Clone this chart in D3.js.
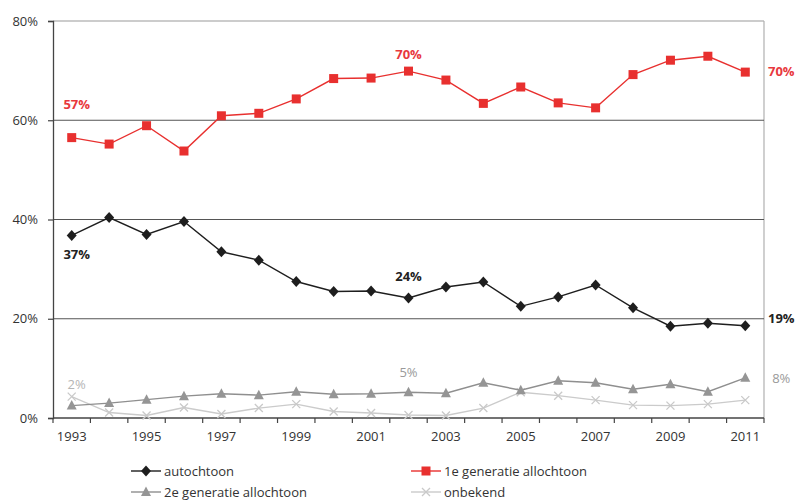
<!DOCTYPE html>
<html>
<head>
<meta charset="utf-8">
<script src="https://cdn.jsdelivr.net/npm/d3@7"></script>
<style>
  body { margin: 0; background: #fff; }
  svg { display: block; font-family: "Open Sans", "DejaVu Sans", sans-serif; }
</style>
</head>
<body>
<svg id="chart" width="796" height="500"></svg>
<script>
// Years on the x axis
const years = [1993,1994,1995,1996,1997,1998,1999,2000,2001,2002,2003,2004,2005,2006,2007,2008,2009,2010,2011];
const yearLabels = [1993,1995,1997,1999,2001,2003,2005,2007,2009,2011];
const yTicks = [0,20,40,60,80];

// Shares per group (%)
const autochtoon = [36.8,40.4,37.0,39.6,33.5,31.8,27.5,25.5,25.6,24.2,26.4,27.4,22.5,24.4,26.8,22.2,18.5,19.1,18.6];
const eersteGen  = [56.5,55.2,58.9,53.8,60.9,61.4,64.3,68.4,68.5,69.9,68.1,63.4,66.7,63.5,62.5,69.2,72.1,72.9,69.7];
const tweedeGen  = [2.5,3.0,3.7,4.4,4.9,4.6,5.3,4.8,4.9,5.2,5.0,7.1,5.6,7.5,7.1,5.8,6.8,5.3,8.1];
const onbekend   = [4.3,1.1,0.5,2.1,0.8,2.0,2.8,1.3,1.0,0.6,0.5,2.0,5.2,4.5,3.6,2.6,2.5,2.8,3.6];

// Value callouts: [series key, year, text]
const callouts = [
  ["eerste", 1993, "57%"], ["eerste", 2002, "70%"], ["eerste", 2011, "70%"],
  ["auto", 1993, "37%"], ["auto", 2002, "24%"], ["auto", 2011, "19%"],
  ["onbekend", 1993, "2%"], ["tweede", 2002, "5%"], ["tweede", 2011, "8%"]
];

const series = [
  { key: "auto", name: "autochtoon", values: autochtoon, color: "#1e1e1e", line: "#1e1e1e", marker: "diamond", width: 1.4 },
  { key: "eerste", name: "1e generatie allochtoon", values: eersteGen, color: "#e8302f", line: "#e8302f", marker: "square", width: 1.4 },
  { key: "tweede", name: "2e generatie allochtoon", values: tweedeGen, color: "#959595", line: "#8f8f8f", marker: "triangle", width: 1.4 },
  { key: "onbekend", name: "onbekend", values: onbekend, color: "#c9c9c9", line: "#cbcbcb", marker: "cross", width: 1.4 }
];

const svg = d3.select("#chart");
const m = { left: 53, right: 764, top: 21, bottom: 418 };

const x = d3.scaleBand().domain(years).range([m.left, m.right]);
const xc = d => x(d) + x.bandwidth() / 2;
const y = d3.scaleLinear().domain([0, 80]).range([m.bottom, m.top]);

// Frame: top and right border in light grey
svg.append("line").attr("x1", m.left).attr("x2", m.right).attr("y1", y(80)).attr("y2", y(80))
  .attr("stroke", "#9a9a9a").attr("stroke-width", 1.2);
svg.append("line").attr("x1", m.right).attr("x2", m.right).attr("y1", y(80)).attr("y2", y(0))
  .attr("stroke", "#b0b0b0").attr("stroke-width", 1.2);

// Gridlines
svg.append("g").selectAll("line").data([20, 40, 60]).join("line")
  .attr("x1", m.left).attr("x2", m.right)
  .attr("y1", d => y(d)).attr("y2", d => y(d))
  .attr("stroke", "#555").attr("stroke-width", 1.2);

// Y axis
const yAxis = svg.append("g").attr("transform", `translate(${m.left},0)`)
  .call(d3.axisLeft(y).tickValues(yTicks).tickFormat(d => d + "%").tickSize(5).tickPadding(10));
yAxis.select(".domain").attr("stroke", "#444").attr("stroke-width", 1.3);
yAxis.selectAll(".tick line").attr("stroke", "#444").attr("stroke-width", 1.2);
yAxis.selectAll("text").attr("font-size", 13).attr("fill", "#333")
  .attr("font-family", "\"Open Sans\", sans-serif");

// X axis: ticks at category boundaries, labels every other year
const bounds = years.map(d => x(d)).concat([m.right]);
const xg = svg.append("g");
xg.append("line").attr("x1", m.left).attr("x2", m.right).attr("y1", y(0)).attr("y2", y(0))
  .attr("stroke", "#444").attr("stroke-width", 1.3);
xg.selectAll("line.tk").data(bounds).join("line").attr("class", "tk")
  .attr("x1", d => d).attr("x2", d => d).attr("y1", y(0)).attr("y2", y(0) + 5)
  .attr("stroke", "#444").attr("stroke-width", 1.2);
xg.selectAll("text").data(yearLabels).join("text")
  .attr("x", d => xc(d)).attr("y", y(0) + 23)
  .attr("text-anchor", "middle").attr("font-size", 13).attr("fill", "#333")
  .text(d => d);

// Marker shapes
function drawMarker(g, type, color, cx, cy) {
  if (type === "diamond") {
    g.append("path").attr("d", `M${cx},${cy - 5.5}L${cx + 5},${cy}L${cx},${cy + 5.5}L${cx - 5},${cy}Z`)
      .attr("fill", color);
  } else if (type === "square") {
    g.append("rect").attr("x", cx - 4.5).attr("y", cy - 4.5).attr("width", 9).attr("height", 9)
      .attr("fill", color);
  } else if (type === "triangle") {
    g.append("path").attr("d", `M${cx},${cy - 5.5}L${cx + 5},${cy + 4}L${cx - 5},${cy + 4}Z`)
      .attr("fill", color);
  } else if (type === "cross") {
    g.append("path").attr("d", `M${cx - 4},${cy - 4}L${cx + 4},${cy + 4}M${cx - 4},${cy + 4}L${cx + 4},${cy - 4}`)
      .attr("stroke", color).attr("stroke-width", 1.3).attr("fill", "none");
  }
}

// Lines and markers, back to front
const line = d3.line().x((d, i) => xc(years[i])).y(d => y(d));
[...series].reverse().forEach(s => {
  const g = svg.append("g");
  g.append("path").datum(s.values).attr("d", line)
    .attr("fill", "none").attr("stroke", s.line).attr("stroke-width", s.width);
  s.values.forEach((v, i) => drawMarker(g, s.marker, s.color, xc(years[i]), y(v)));
});

// Value callouts, offset from the point they describe
const byKey = Object.fromEntries(series.map(s => [s.key, s]));
const calloutPos = {
  "eerste-1993": [5, -34], "eerste-2002": [0, -17], "eerste-2011": [36, -1],
  "auto-1993": [5, 19], "auto-2002": [0, -22], "auto-2011": [36, -8],
  "onbekend-1993": [5, -13], "tweede-2002": [0, -20], "tweede-2011": [36, 0]
};
const labelColor = { auto: "#222", eerste: "#e8383d", tweede: "#9a9a9a", onbekend: "#b5b5b5" };
callouts.forEach(([k, yr, txt]) => {
  const s = byKey[k];
  const v = s.values[years.indexOf(yr)];
  const [dx, dy] = calloutPos[k + "-" + yr];
  const bold = (k === "auto" || k === "eerste");
  svg.append("text")
    .attr("x", xc(yr) + dx).attr("y", y(v) + dy)
    .attr("text-anchor", "middle").attr("dominant-baseline", "central")
    .attr("font-size", 13).attr("font-weight", bold ? 700 : 400)
    .attr("fill", labelColor[k]).text(txt);
});

// Legend
const legendItems = [
  { s: series[0], lx: 131, ly: 471 },
  { s: series[1], lx: 411, ly: 471 },
  { s: series[2], lx: 131, ly: 492 },
  { s: series[3], lx: 411, ly: 492 }
];
legendItems.forEach(({ s, lx, ly }) => {
  const g = svg.append("g");
  g.append("line").attr("x1", lx).attr("x2", lx + 30).attr("y1", ly).attr("y2", ly)
    .attr("stroke", s.line).attr("stroke-width", 1.4);
  drawMarker(g, s.marker, s.color, lx + 15, ly);
  g.append("text").attr("x", lx + 33).attr("y", ly).attr("dominant-baseline", "central")
    .attr("font-size", 13).attr("fill", "#333").text(s.name);
});
</script>
</body>
</html>
